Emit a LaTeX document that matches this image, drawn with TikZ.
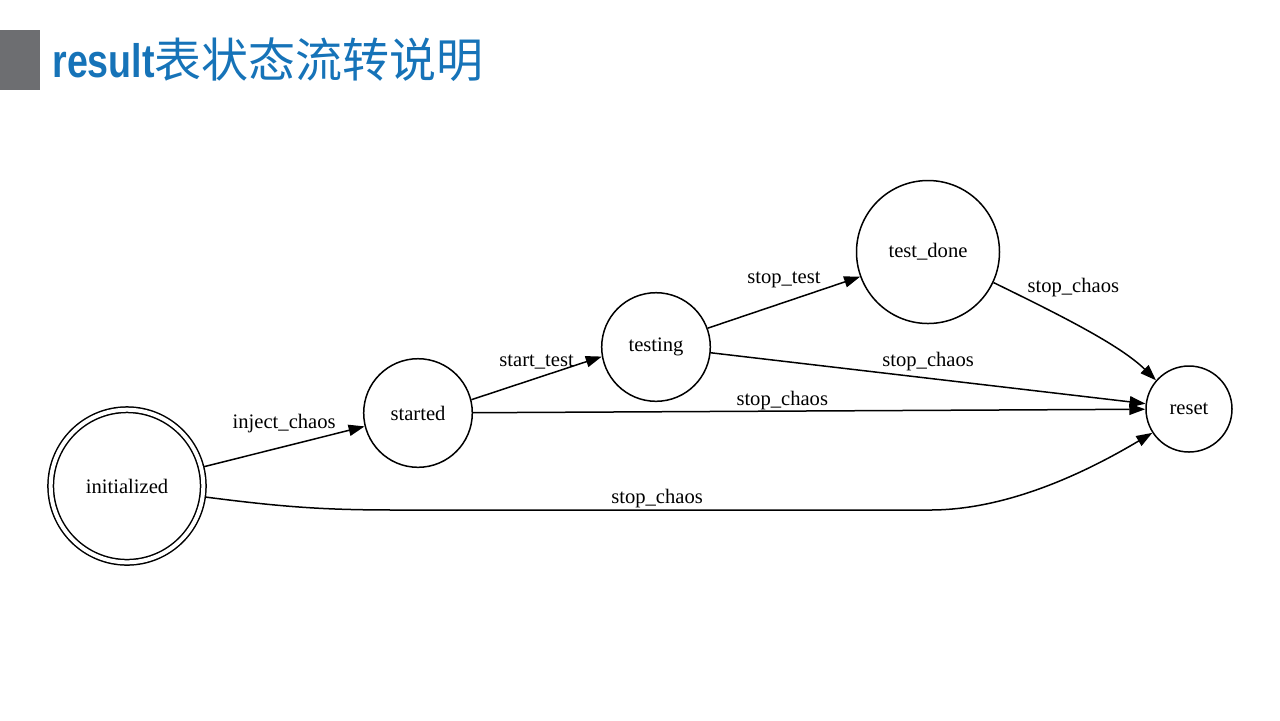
\documentclass[tikz,border=0pt]{standalone}
\usepackage{fontspec}
\setmainfont{Liberation Serif}
\newfontfamily\cjkfont{Noto Sans CJK SC}
\newfontfamily\titlefont{Liberation Sans}
\usetikzlibrary{arrows.meta,positioning}
\definecolor{titleblue}{RGB}{22,115,184}
\definecolor{bargray}{RGB}{109,110,113}

\begin{document}
\begin{tikzpicture}[
    x=0.5pt, y=-0.5pt,
 mystate/.style = {
        draw, circle, line width=0.75pt, inner sep=0pt,
        font=\fontsize{10.3}{12}\selectfont},
 mylabel/.style = {
        font=\fontsize{10.3}{12}\selectfont, inner sep=1pt},
     arrow/.style = {line width=0.75pt,-{Triangle[length=8pt,width=5.6pt]}}
                    ]
\useasboundingbox (0,0) rectangle (1280,720);
% the title
\fill[bargray] (0,30) rectangle (40,90);
\node (title) [anchor=base west, inner sep=0pt, text=titleblue] at (52,77)
    {\scalebox{0.8}[1]{\titlefont\bfseries\fontsize{23.5}{26}\selectfont result}%
     \cjkfont\fontsize{23.5}{26}\selectfont 表状态流转说明};
% the states
\node (init)    [mystate, double, double distance=2pt,
                 minimum size=76.3pt, outer sep=1.4pt] at (127,486) {initialized};
\node (started) [mystate, minimum size=54.3pt] at (418,413) {started};
\node (testing) [mystate, minimum size=54.3pt] at (656,347) {testing};
\node (done)    [mystate, minimum size=71.5pt] at (928,252) {test\_done};
\node (reset)   [mystate, minimum size=43pt]   at (1189,409) {reset};
% the transitions
\draw[arrow] (init) -- node[mylabel, above=5.5pt] {inject\_chaos} (started);
\draw[arrow] (started.14.5) -- node[mylabel, above=3pt] {start\_test} (testing.190);
\draw[arrow] (testing.20) -- node[mylabel, above=6pt] {stop\_test} (done.200);
\draw[arrow] (testing.-6) -- node[mylabel, above=2.5pt] {stop\_chaos} (reset.173);
\draw[arrow] (started) -- node[mylabel, pos=0.46, above=-1pt] {stop\_chaos} (reset);
\draw[arrow] (done.-25) .. controls (1060,315) and (1120,345) .. (reset.139)
    node[mylabel, pos=0.16, anchor=south west, yshift=-1pt] {stop\_chaos};
\draw[arrow] (init.-8) .. controls (290,508) and (330,510) .. (400,510)
    -- node[mylabel, pos=0.485, above=-0.5pt] {stop\_chaos} (930,510)
    .. controls (1010,510) and (1090,470) .. (reset.213);
\end{tikzpicture}
\end{document}
